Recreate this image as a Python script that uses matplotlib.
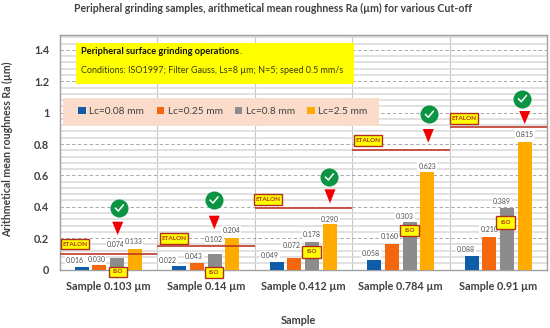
import matplotlib
matplotlib.use("Agg")
import matplotlib.pyplot as plt
from matplotlib.patches import Rectangle, Polygon
from matplotlib.lines import Line2D
import numpy as np

plt.rcParams['font.family'] = ['Lato', 'DejaVu Sans']

samples = ['Sample 0.103 µm', 'Sample 0.14 µm', 'Sample 0.412 µm', 'Sample 0.784 µm', 'Sample 0.91 µm']
lc_008 = [0.016, 0.022, 0.049, 0.058, 0.088]
lc_025 = [0.030, 0.043, 0.072, 0.160, 0.210]
lc_08 = [0.074, 0.102, 0.178, 0.303, 0.389]
lc_25 = [0.133, 0.204, 0.290, 0.623, 0.815]
etalon_line = [0.097, 0.148, 0.392, 0.763, 0.906]
series_names = ['Lc=0.08 mm', 'Lc=0.25 mm', 'Lc=0.8 mm', 'Lc=2.5 mm']
series_colors = ['#0F5CA8', '#F4670C', '#8C8C8C', '#FFAB00']
series = [lc_008, lc_025, lc_08, lc_25]

# label offsets (px) from each bar's top centre: dx per series/sample, dy per series/sample
label_dx = [[-7, -11, -7, -3.3, -5.7], [-3, -3, -3, -2, 0], [-1.5, -1, 0, -5, -5], [-1.5, -1, 0, 0, 0]]
label_dy = [[6, 6, 6.5, 6.7, 6.4], [5, 6.5, 12.5, 8, 6.8], [13, 14, 7, 5, 7], [7, 7, 5, 5.7, 7]]

W, H = 550, 328
fig = plt.figure(figsize=(W / 100, H / 100), dpi=100, facecolor='white')
L, R, T, B = 59.5, 547, 35, 269.5
ax = fig.add_axes([L / W, 1 - B / H, (R - L) / W, (B - T) / H])

def px(x, y):
    return x / W, 1 - y / H

n = len(samples)
x = np.arange(n)
bar_w, step = 0.144, 0.182
ax.set_xlim(-0.5, n - 0.5)
ax.set_ylim(0, 1.495)
ax.set_axisbelow(True)

ax.set_yticks(np.arange(0, 1.41, 0.2))
ax.set_yticklabels(['0', '0.2', '0.4', '0.6', '0.8', '1', '1.2', '1.4'],
                   fontsize=7.8, fontweight='bold', color='#404040')
ax.set_yticks(np.arange(0, 1.49, 0.04), minor=True)
ax.set_xticks(x)
ax.set_xticklabels(samples, fontsize=7.8, fontweight='bold', color='#404040')
ax.set_xticks(np.arange(0.5, n - 0.5, 1), minor=True)
ax.tick_params(axis='both', which='both', length=0)
ax.tick_params(axis='x', pad=8.5)
ax.tick_params(axis='y', pad=7.5)
ax.grid(axis='y', which='minor', color='#D9D9D9', lw=1.1, zorder=0)
ax.grid(axis='y', which='major', color='#9A9A9A', lw=0.6, ls=(0, (4, 3)), zorder=1)
ax.grid(axis='x', which='minor', color='#C8C8C8', lw=0.8, zorder=1)
ax.grid(axis='x', which='major', visible=False)
for s in ax.spines.values():
    s.set_color('#A0A0A0')
    s.set_linewidth(1.0)

for i, (vals, col) in enumerate(zip(series, series_colors)):
    pos = x + (i - 1.5) * step
    ax.bar(pos, vals, bar_w, color=col, zorder=3)
    for j, v in enumerate(vals):
        ax.annotate(f'{v:.3f}', (pos[j], v), xytext=(label_dx[i][j] * 0.72, label_dy[i][j] * 0.72),
                    textcoords='offset points', ha='center', va='center', fontsize=5,
                    color='#505050', zorder=4,
                    bbox=dict(fc='white', ec='none', pad=0.8))

for j, v in enumerate(etalon_line):
    ax.plot([j - 0.5, j + 0.5], [v, v], color='#C0392B', lw=1.2, zorder=5, solid_capstyle='butt')

tf = fig.transFigure

def box(x0, y0, x1, y1, fc, ec=None, lw=0, z=6):
    a, b = px(x0, y1)
    c, d = px(x1, y0)
    fig.add_artist(Rectangle((a, b), c - a, d - b, transform=tf, fc=fc, ec=ec or 'none', lw=lw, zorder=z))

def tag(x0, y0, x1, y1, s, fs):
    box(x0, y0, x1, y1, '#FFFF00', '#B03020', 1.0, 7)
    cx, cy = px((x0 + x1) / 2, (y0 + y1) / 2)
    fig.text(cx, cy, s, ha='center', va='center', fontsize=fs, fontweight='bold', color='#B03020', zorder=8)

etalon_boxes = [(61, 238.7, 88.7, 249.3), (160.3, 233, 188.3, 244), (254.3, 194, 282, 204.7),
                (354, 134.7, 381.7, 145.7), (449.7, 113.3, 478, 124.3)]
iso_boxes = [(108.7, 266.7, 126.7, 277), (205, 267, 223, 277.7), (302, 245.7, 321.3, 257.7),
             (399.7, 224.7, 419.3, 235.7), (496, 216.3, 515.3, 229)]
for b in etalon_boxes:
    tag(*b, 'ETALON', 4.6)
for b in iso_boxes:
    tag(*b, 'ISO', 4.6)

triangles = [(117.7, 221.7, 235), (214.3, 215.7, 229.3), (330, 189.3, 203.3), (428.3, 129, 142.7), (524.7, 111, 124)]
for cx, t, b in triangles:
    fig.add_artist(Polygon([px(cx - 5.5, t), px(cx + 5.5, t), px(cx, b)], closed=True, transform=tf,
                           fc='#F00000', ec='none', zorder=7))

checks = [(119.3, 208), (214, 200), (329.3, 177), (429.3, 114.3), (522.3, 98.7)]
for cx, cy in checks:
    fig.add_artist(Line2D([cx / W], [1 - cy / H], marker='o', ms=13, mfc='#0B9444', mec='none', ls='none',
                          transform=tf, zorder=7))
    xs = [cx - 3.8, cx - 1, cx + 4]
    ys = [cy + 0.2, cy + 3, cy - 3]
    fig.add_artist(Line2D([a / W for a in xs], [1 - c / H for c in ys], color='white', lw=1.1,
                          transform=tf, zorder=8))

# yellow note
box(76.3, 42.7, 354, 84, '#FFFF00')
fig.text(*px(81, 51.5), 'Peripheral surface grinding operations', fontsize=6.7, fontweight='bold',
         color='#101010', va='center', zorder=8)
fig.text(*px(239.5, 51.5), '.', fontsize=6.7, color='#101010', va='center', zorder=8)
fig.text(*px(81, 70.5), 'Conditions: ISO1997; Filter Gauss, Ls=8 µm; N=5; speed 0.5 mm/s', fontsize=6.5,
         color='#3A3A10', va='center', zorder=8)

# legend band
box(63, 98, 378.7, 125.7, '#FBDCCB')
handles = [Rectangle((0, 0), 1, 1, fc=c, ec='none') for c in series_colors]
leg = fig.legend(handles, series_names, loc='center', bbox_to_anchor=px(223, 111.5), ncol=4, frameon=False,
                 fontsize=7.3, handlelength=0.75, handleheight=0.75, handletextpad=0.35, columnspacing=1.2,
                 labelcolor='#404040')
leg.set_zorder(8)

fig.text(*px(272.5, 8), 'Peripheral grinding samples, arithmetical mean roughness Ra (µm) for various Cut-off',
         ha='center', va='center', fontsize=7.6, fontweight='bold', color='#404040')
fig.text(*px(8, 149), 'Arithmetical mean roughness Ra (µm)', rotation=90, ha='center', va='center',
         fontsize=7.6, fontweight='bold', color='#404040')
fig.text(*px(298, 320), 'Sample', ha='center', va='center', fontsize=7.8, fontweight='bold', color='#404040')

fig.savefig('out.png', dpi=100)
